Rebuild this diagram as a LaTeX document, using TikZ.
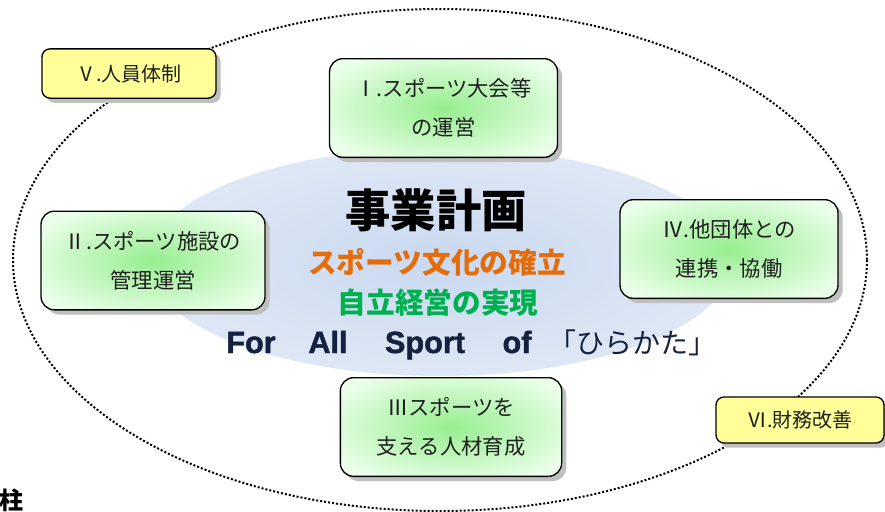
\documentclass[tikz,border=0pt]{standalone}
\usepackage{fontspec}
\setmainfont{Noto Sans CJK JP}
\newfontfamily\blackfont[FakeBold=1.5]{Liberation Sans Bold}
\usetikzlibrary{shadows}
\definecolor{planorange}{HTML}{E46C0A}
\definecolor{plangreen}{HTML}{00B050}
\definecolor{plannavy}{HTML}{13233F}
\definecolor{boxyellow}{HTML}{FFFF99}
\definecolor{glowblueA}{HTML}{C9D9F0}
\definecolor{glowblueB}{HTML}{DEE7F5}
\definecolor{glowblueC}{HTML}{EFF3FA}
\definecolor{glowgreen}{HTML}{96EE8F}
\definecolor{palegreen}{HTML}{EAFEE9}
\pgfdeclareradialshading{bgglow}{\pgfpointorigin}{color(0bp)=(glowblueA); color(25bp)=(glowblueB); color(49bp)=(glowblueC); color(50bp)=(white); color(100bp)=(white)}
\pgfdeclareradialshading{boxglow}{\pgfpointorigin}{color(0bp)=(glowgreen); color(30bp)=(palegreen); color(100bp)=(palegreen)}
\begin{document}
\begin{tikzpicture}[x=0.75pt, y=-0.75pt, line join=round, line cap=round,
	plan/.style={draw=black, line width=1pt, rounded corners=10pt, align=center, text=black!88, shading=boxglow,
		font=\fontsize{16}{29}\selectfont, minimum height=74pt,
		drop shadow={shadow xshift=3.5pt, shadow yshift=-3.5pt, fill=black!25, opacity=1}},
	support/.style={draw=black, line width=1pt, rounded corners=6pt, fill=boxyellow, text=black!88,
		font=\fontsize{15}{18}\selectfont,
		drop shadow={shadow xshift=3.5pt, shadow yshift=-3.5pt, fill=black!25, opacity=1}},
	slogan/.style={font=\fontsize{21.5}{24}\selectfont\bfseries},
	motto/.style={anchor=base, text=plannavy, font=\fontsize{23}{26}\selectfont\blackfont}]
	\useasboundingbox (0,0) rectangle (885,511);
	\clip (0,0) rectangle (885,511);
	\shade[shading=bgglow] (440,262) ellipse [x radius=292, y radius=114];
	\draw[line width=1.5pt, line cap=butt, dash pattern=on 1.5pt off 1.5pt] (440,260) ellipse [x radius=427, y radius=251];
	\node[plan, minimum width=171pt] (p1) at (443.5,108) {Ⅰ.スポーツ大会等\\の運営};
	\node[plan, minimum width=168pt] (p2) at (153,260.5) {Ⅱ.スポーツ施設の\\管理運営};
	\node[plan, minimum width=166pt] (p3) at (451,427) {Ⅲスポーツを\\支える人材育成};
	\node[plan, minimum width=163.5pt] (p4) at (729,249) {Ⅳ.他団体との\\連携・協働};
	\node[support, minimum width=130.5pt, minimum height=37pt] (p5) at (129,73.5) {Ⅴ.人員体制};
	\node[support, minimum width=126pt, minimum height=34.5pt] (p6) at (800,420) {Ⅵ.財務改善};
	\node[font=\fontsize{34}{36}\selectfont\bfseries] (title) at (436,210) {事業計画};
	\node[slogan, text=planorange] (culture) at (437,262) {スポーツ文化の確立};
	\node[slogan, text=plangreen] (self) at (438,303) {自立経営の実現};
	\foreach \w/\x in {For/251, All/328, Sport/425, of/517}
		\node[motto] (m\w) at (\x,353) {\w};
	\node[anchor=base, text=plannavy, font=\fontsize{21}{24}\selectfont] (city) at (632,353) {「ひらかた」};
	\node[font=\fontsize{18}{20}\selectfont\bfseries] (pillar) at (11,500) {柱};
\end{tikzpicture}
\end{document}
